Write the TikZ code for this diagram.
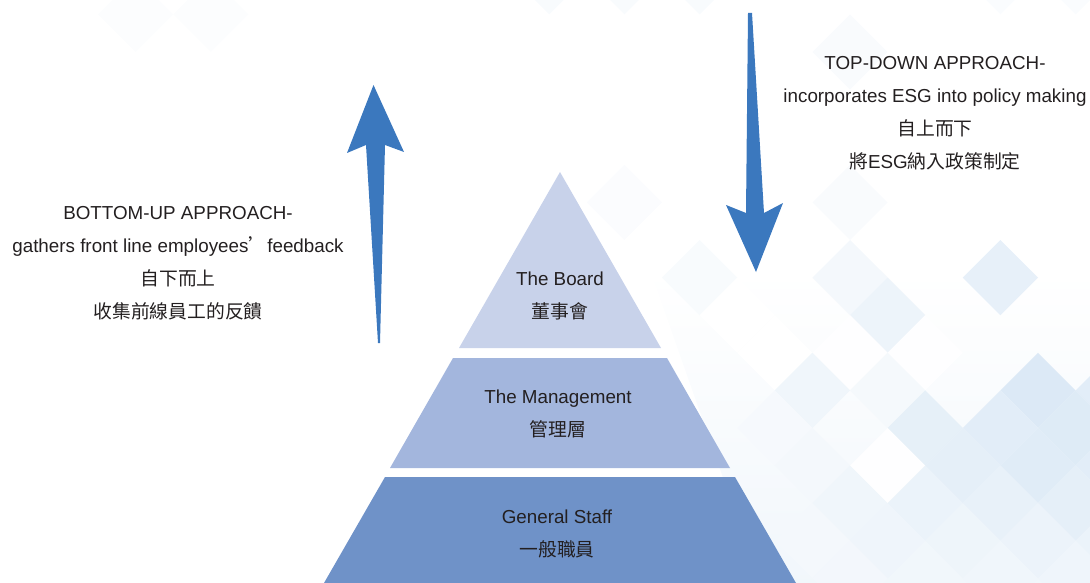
\documentclass[tikz,border=0pt]{standalone}
\usepackage{fontspec}
\setmainfont{Liberation Sans}
\newfontfamily\cjk{Noto Sans CJK TC}
\definecolor{arrowblue}{HTML}{3B78BE}
\definecolor{boardfill}{HTML}{C8D2EA}
\definecolor{managefill}{HTML}{A3B6DD}
\definecolor{stafffill}{HTML}{6F92C8}
\definecolor{textgrey}{HTML}{231F20}
\definecolor{tileblue}{HTML}{C6DCF0}
% one diamond of the background lattice: column, row, shade
\newcommand{\tile}[3]{%
\fill[tileblue!#3] ({850+37.6*(#1)},{52+37.6*(#2)}) +(0,-37.6) -- +(37.6,0) -- +(0,37.6) -- +(-37.6,0) -- cycle;}
\begin{document}
\begin{tikzpicture}
[x=1pt,y=-1pt,
layer text/.style={text=textgrey,align=center,font=\fontsize{18.8}{33}\selectfont},
approach text/.style={layer text}]
\useasboundingbox (0,0) rectangle (1090,583);
% background
\shade[top color=white,bottom color=tileblue!24] (760,583) -- (650,270) -- (1090,270) -- (1090,583) -- cycle;
\foreach \a/\b/\s in {-8/-2/12,-6/-2/12,-4/-2/12,4/-2/8,6/-2/8,-19/-1/5,-17/-1/5,
0/0/10,0/4/10,-6/4/7,-4/6/12,0/6/20,4/6/42,1/7/32,-3/7/0,-2/8/0,0/8/2,2/8/2,
-1/9/26,1/9/18,5/9/62,7/9/50,-2/10/16,2/10/44,4/10/50,6/10/58,
-1/11/20,1/11/2,3/11/46,5/11/55,7/11/50,0/12/26,2/12/36,4/12/40,6/12/45,
-1/13/20,1/13/28,3/13/30,5/13/34,7/13/36,0/14/22,2/14/24,4/14/26,6/14/28}
{\tile{\a}{\b}{\s}}
% pyramid
\fill[boardfill] (560,172) -- (661,348) -- (459,348) -- cycle;
\fill[managefill] (453,358) -- (667,358) -- (730,468) -- (390,468) -- cycle;
\fill[stafffill] (385,477) -- (735,477) -- (796,583) -- (324,583) -- cycle;
\node[layer text] (board) at (560,295.5) {The Board\\{\cjk 董事會}};
\node[layer text] (management) at (558,413.5) {The Management\\{\cjk 管理層}};
\node[layer text] (staff) at (557,533.5) {General Staff\\{\cjk 一般職員}};
% arrows
\fill[arrowblue] (378,343) -- (366,145) -- (347,153) -- (373.5,85) -- (404,152) -- (385,145) -- (380,343) -- cycle;
\fill[arrowblue] (748,13) -- (752,13) -- (764,213) -- (783,203) -- (756,272) -- (726,205) -- (746,213) -- cycle;
\node[approach text] (bottomup) at (178,263)
{BOTTOM-UP APPROACH-\\gathers front line employees{\cjk ’}feedback\\{\cjk 自下而上}\\{\cjk 收集前線員工的反饋}};
\node[approach text] (topdown) at (935,113.5)
{TOP-DOWN APPROACH-\\incorporates ESG into policy making\\{\cjk 自上而下}\\{\cjk 將}ESG{\cjk 納入政策制定}};
\end{tikzpicture}
\end{document}
